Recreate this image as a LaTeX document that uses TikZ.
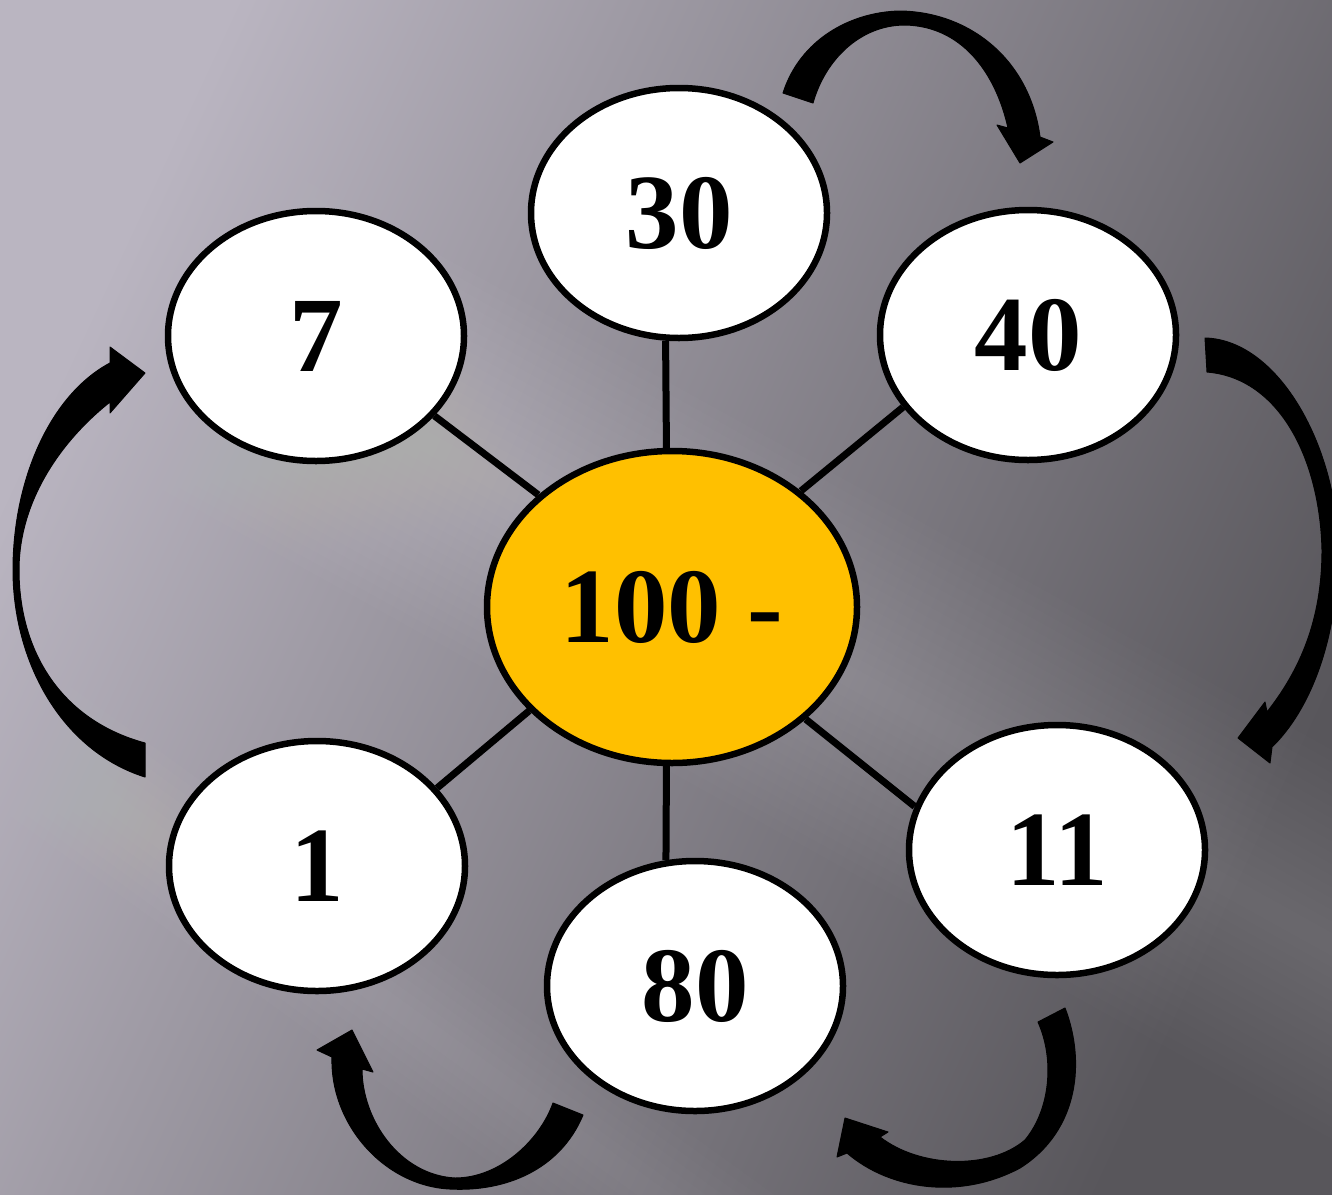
\documentclass[tikz,border=0pt]{standalone}
\usepackage{fontspec}
\setmainfont{Liberation Serif}
\usetikzlibrary{shapes.geometric,shadings}
\definecolor{hubyellow}{HTML}{FFC000}
\definecolor{bgTL}{HTML}{BAB5C1}
\definecolor{bgMid}{HTML}{838088}
\definecolor{bgBR}{HTML}{58565B}
\begin{document}
\begin{tikzpicture}[x=1pt,y=-1pt,
  bubble/.style={ellipse, draw=black, line width=6.5pt, fill=white,
    minimum width=296pt, minimum height=250pt, inner sep=0pt,
    font=\fontsize{107}{107}\selectfont\bfseries},
  hub/.style={bubble, fill=hubyellow, minimum width=370pt, minimum height=312pt},
  spoke/.style={line width=7pt},
  bigarrow/.style={fill=black, draw=black, line width=1pt, line join=round}]
\useasboundingbox (0,0) rectangle (1332,1194);
% background
\shade[top color=bgTL, middle color=bgMid, bottom color=bgBR, shading angle=65] (0,0) rectangle (1332,1194);
\foreach \w in {10,20,...,170}{
  \fill[white, fill opacity=0.012]
    ({-100-0.485*\w},{150+0.874*\w}) -- ({1432-0.485*\w},{1000+0.874*\w})
    -- ({1432+0.485*\w},{1000-0.874*\w}) -- ({-100+0.485*\w},{150-0.874*\w}) -- cycle;
}
\foreach \w in {10,20,...,70}{
  \fill[white, fill opacity=0.01]
    ({-100-0.585*\w},{650+0.811*\w}) -- ({800-0.585*\w},{1300+0.811*\w})
    -- ({800+0.585*\w},{1300-0.811*\w}) -- ({-100+0.585*\w},{650-0.811*\w}) -- cycle;
}
% nodes
\node[hub] (c) at (672,607) {100 -};
\node[bubble] (n30) at (679,213) {30};
\node[bubble] (n7) at (316,336) {7};
\node[bubble] (n40) at (1028,335) {40};
\node[bubble] (n1) at (317,866) {1};
\node[bubble] (n80) at (695,986) {80};
\node[bubble] (n11) at (1057,850) {11};
% spokes
\draw[spoke] (c.92) -- (n30.-96);
\draw[spoke] (c.140) -- (n7.-34);
\draw[spoke] (c.42) -- (n40.210);
\draw[spoke] (c.216) -- (n1.33);
\draw[spoke] (c.-40) -- (n11.163);
\draw[spoke] (c.-92) -- (n80.103);
% curved arrows
\fill[bigarrow] (783,93) .. controls (800,40) and (850,12) .. (900,11)
  .. controls (970,12) and (1030,60) .. (1040,137) -- (1053,142) -- (1020,163)
  -- (997,125) -- (1008,128) .. controls (995,70) and (960,26) .. (905,25)
  .. controls (860,25) and (825,60) .. (813,103) -- cycle;
\fill[bigarrow] (1205,338) .. controls (1280,340) and (1338,450) .. (1338,550)
  .. controls (1338,640) and (1310,710) .. (1272,747) -- (1270,763) -- (1238,738)
  -- (1265,702) -- (1267,712) .. controls (1300,670) and (1322,620) .. (1322,550)
  .. controls (1320,460) and (1280,378) .. (1207,372) -- cycle;
\fill[bigarrow] (145,777) .. controls (60,750) and (13,660) .. (13,570)
  .. controls (13,480) and (50,395) .. (110,363) -- (110,347) -- (145,373)
  -- (110,413) -- (110,402) .. controls (62,440) and (19,500) .. (19,570)
  .. controls (19,650) and (60,720) .. (145,743) -- cycle;
\fill[bigarrow] (583,1115) .. controls (560,1170) and (505,1192) .. (450,1189)
  .. controls (385,1186) and (330,1125) .. (332,1057) -- (317,1050) -- (352,1030)
  -- (373,1072) -- (362,1069) .. controls (362,1120) and (400,1175) .. (455,1178)
  .. controls (500,1178) and (540,1140) .. (553,1103) -- cycle;
\fill[bigarrow] (1065,1008) .. controls (1085,1060) and (1080,1130) .. (1020,1168)
  .. controls (960,1200) and (890,1190) .. (847,1153) -- (837,1157) -- (845,1118)
  -- (888,1132) -- (880,1137) .. controls (920,1168) and (990,1170) .. (1025,1140)
  .. controls (1050,1110) and (1055,1060) .. (1038,1022) -- cycle;
\end{tikzpicture}
\end{document}
